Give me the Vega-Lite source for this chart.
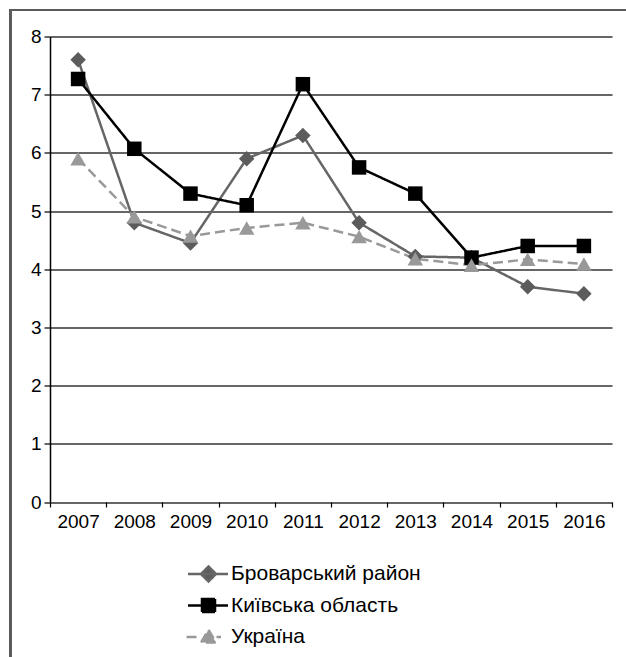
{
  "$schema": "https://vega.github.io/schema/vega-lite/v6.json",
  "width": 562,
  "height": 465.5,
  "autosize": {"type": "none"},
  "padding": {"left": 50, "top": 36.5, "right": 14, "bottom": 155},
  "background": "white",
  "config": {
    "view": {"stroke": null},
    "font": "Liberation Sans",
    "axis": {"labelFont": "Liberation Sans", "labelFontSize": 19, "labelColor": "#000"}
  },
  "data": {
    "values": [
      {"year": 2007, "series": "Броварський район", "value": 7.6},
      {"year": 2008, "series": "Броварський район", "value": 4.8},
      {"year": 2009, "series": "Броварський район", "value": 4.45},
      {"year": 2010, "series": "Броварський район", "value": 5.9},
      {"year": 2011, "series": "Броварський район", "value": 6.3},
      {"year": 2012, "series": "Броварський район", "value": 4.8},
      {"year": 2013, "series": "Броварський район", "value": 4.22},
      {"year": 2014, "series": "Броварський район", "value": 4.2},
      {"year": 2015, "series": "Броварський район", "value": 3.7},
      {"year": 2016, "series": "Броварський район", "value": 3.58},
      {"year": 2007, "series": "Київська область", "value": 7.27},
      {"year": 2008, "series": "Київська область", "value": 6.07},
      {"year": 2009, "series": "Київська область", "value": 5.3},
      {"year": 2010, "series": "Київська область", "value": 5.1},
      {"year": 2011, "series": "Київська область", "value": 7.18},
      {"year": 2012, "series": "Київська область", "value": 5.75},
      {"year": 2013, "series": "Київська область", "value": 5.3},
      {"year": 2014, "series": "Київська область", "value": 4.2},
      {"year": 2015, "series": "Київська область", "value": 4.4},
      {"year": 2016, "series": "Київська область", "value": 4.4},
      {"year": 2007, "series": "Україна", "value": 5.9},
      {"year": 2008, "series": "Україна", "value": 4.9},
      {"year": 2009, "series": "Україна", "value": 4.57},
      {"year": 2010, "series": "Україна", "value": 4.71},
      {"year": 2011, "series": "Україна", "value": 4.8},
      {"year": 2012, "series": "Україна", "value": 4.56},
      {"year": 2013, "series": "Україна", "value": 4.18},
      {"year": 2014, "series": "Україна", "value": 4.07},
      {"year": 2015, "series": "Україна", "value": 4.17},
      {"year": 2016, "series": "Україна", "value": 4.09}
    ]
  },
  "layer": [
    {
      "mark": {"type": "rect", "fillOpacity": 0, "stroke": "#5a5a5a", "strokeWidth": 2, "clip": false},
      "encoding": {
        "x": {"datum": 2005.79, "type": "quantitative"},
        "x2": {"datum": 2020},
        "y": {"datum": 8.455, "type": "quantitative"},
        "y2": {"datum": -5}
      }
    },
    {
      "mark": {"type": "line", "strokeWidth": 2.5},
      "encoding": {
        "x": {
          "field": "year",
          "type": "quantitative",
          "scale": {"domain": [2006.5, 2016.5], "nice": false, "zero": false},
          "axis": {
            "title": null,
            "values": [2006.5, 2007.5, 2008.5, 2009.5, 2010.5, 2011.5, 2012.5, 2013.5, 2014.5, 2015.5, 2016.5],
            "labelExpr": "datum.value < 2016 ? format(datum.value + 0.5, 'd') : ''",
            "labelOffset": 28.1,
            "labelFlush": false,
            "labelOverlap": false,
            "labelPadding": 5,
            "tickSize": 5,
            "tickColor": "#000",
            "tickWidth": 1.2,
            "domain": false,
            "grid": false
          }
        },
        "y": {
          "field": "value",
          "type": "quantitative",
          "scale": {"domain": [0, 8], "nice": false},
          "axis": {
            "title": null,
            "values": [0, 1, 2, 3, 4, 5, 6, 7, 8],
            "format": "d",
            "tickSize": 6,
            "tickColor": "#000",
            "tickWidth": 1.2,
            "labelPadding": 3,
            "domainColor": "#000",
            "domainWidth": 1.5,
            "grid": true,
            "gridColor": "#333",
            "gridWidth": 1.3,
            "gridOpacity": 1
          }
        },
        "color": {
          "field": "series",
          "type": "nominal",
          "scale": {
            "domain": ["Броварський район", "Київська область", "Україна"],
            "range": ["#666666", "#000000", "#999999"]
          },
          "legend": {
            "title": null,
            "orient": "none",
            "legendX": 147,
            "legendY": 526,
            "padding": 0,
            "symbolSize": 400,
            "labelOffset": 11,
            "rowPadding": 7.5,
            "labelFont": "Liberation Sans",
            "labelFontSize": 21,
            "labelColor": "#000",
            "labelLimit": 400,
            "encode": {
              "symbols": {
                "update": {
                  "shape": {"signal": "datum.value === 'Броварський район' ? 'M-2.05,0L1.95,0M0,-0.75L0.75,0L0,0.75L-0.75,0Z' : datum.value === 'Київська область' ? 'M-2.05,0L1.95,0M-0.65,-0.65L0.65,-0.65L0.65,0.65L-0.65,0.65Z' : 'M-2.2,0L-1.15,0M0.8,0L1.25,0M0,-0.72L0.75,0.55L-0.75,0.55Z'"},
                  "fill": {"signal": "datum.value === 'Броварський район' ? '#5c5c5c' : datum.value === 'Київська область' ? '#000000' : '#999999'"},
                  "stroke": {"signal": "datum.value === 'Броварський район' ? '#666666' : datum.value === 'Київська область' ? '#000000' : '#999999'"},
                  "strokeWidth": {"value": 2.5},
                  "strokeDash": {"value": []},
                  "opacity": {"value": 1}
                }
              }
            }
          }
        },
        "strokeDash": {
          "field": "series",
          "type": "nominal",
          "scale": {
            "domain": ["Броварський район", "Київська область", "Україна"],
            "range": [[1, 0], [1, 0], [10, 5]]
          },
          "legend": null
        }
      }
    },
    {
      "transform": [{"filter": "datum.series === 'Броварський район'"}],
      "mark": {"type": "point", "filled": true, "size": 240, "opacity": 1, "shape": "diamond", "color": "#5c5c5c"},
      "encoding": {
        "x": {"field": "year", "type": "quantitative"},
        "y": {"field": "value", "type": "quantitative"}
      }
    },
    {
      "transform": [{"filter": "datum.series === 'Київська область'"}],
      "mark": {"type": "point", "filled": true, "size": 210, "opacity": 1, "shape": "square", "color": "#000000"},
      "encoding": {
        "x": {"field": "year", "type": "quantitative"},
        "y": {"field": "value", "type": "quantitative"}
      }
    },
    {
      "transform": [{"filter": "datum.series === 'Україна'"}],
      "mark": {"type": "point", "filled": true, "size": 240, "opacity": 1, "shape": "triangle-up", "color": "#999999"},
      "encoding": {
        "x": {"field": "year", "type": "quantitative"},
        "y": {"field": "value", "type": "quantitative"}
      }
    }
  ]
}
